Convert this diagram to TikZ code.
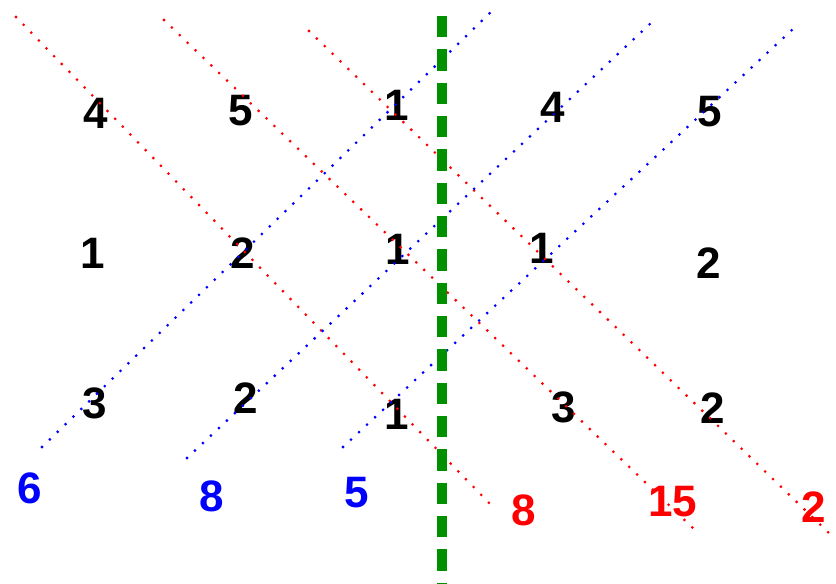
\documentclass[tikz,border=0pt]{standalone}
\usepackage{fontspec}
\setmainfont{Liberation Sans}
\definecolor{sumred}{HTML}{FF0000}
\definecolor{sumblue}{HTML}{0000FF}
\definecolor{cutgreen}{HTML}{009000}
\tikzset{
  val/.style={font=\fontsize{33}{33}\selectfont\bfseries, inner sep=0pt},
  redsum/.style={val, text=sumred},
  bluesum/.style={val, text=sumblue},
  reddiag/.style={sumred, line width=2.3pt, line cap=round, dash pattern=on 0pt off 8.2pt},
  bluediag/.style={reddiag, sumblue},
  cutline/.style={cutgreen, line width=7pt, dash pattern=on 16pt off 9pt},
}

\begin{document}
\begin{tikzpicture}[x=0.75pt, y=-0.75pt]
    \useasboundingbox (0,0) rectangle (836,584);

    % grid values
    \node[val] (a1) at (96,113) {4};
    \node[val] (a2) at (241,111) {5};
    \node[val] (a3) at (397,105) {1};
    \node[val] (a4) at (553,107) {4};
    \node[val] (a5) at (710,112) {5};
    \node[val] (b1) at (93,253) {1};
    \node[val] (b2) at (243,253) {2};
    \node[val] (b3) at (398,249) {1};
    \node[val] (b4) at (542,248) {1};
    \node[val] (b5) at (709,263) {2};
    \node[val] (c1) at (95,403) {3};
    \node[val] (c2) at (246,398) {2};
    \node[val] (c3) at (397,414) {1};
    \node[val] (c4) at (564,407) {3};
    \node[val] (c5) at (713,408) {2};

    % sums
    \node[bluesum] (s6) at (30,488) {6};
    \node[bluesum] (s8) at (212,496) {8};
    \node[bluesum] (s5) at (357,493) {5};
    \node[redsum] (t8) at (524,510) {8};
    \node[redsum] (t15) at (673,502) {15};
    \node[redsum] (t2) at (814,507) {2};

    % diagonal ends
    \coordinate (r1a) at (16,17);   \coordinate (r1b) at (493,507);
    \coordinate (r2a) at (164,20);  \coordinate (r2b) at (697,532);
    \coordinate (r3a) at (309,31);  \coordinate (r3b) at (833,537);
    \coordinate (b1a) at (42,447);  \coordinate (b1b) at (491,12);
    \coordinate (b2a) at (187,458); \coordinate (b2b) at (651,23);
    \coordinate (b3a) at (343,447); \coordinate (b3b) at (793,29);
    \coordinate (cuttop) at (442,16);
    \coordinate (cutbot) at (442,584);

    \draw[reddiag] (r1a) -- (r1b);
    \draw[reddiag] (r2a) -- (r2b);
    \draw[reddiag] (r3a) -- (r3b);
    \draw[bluediag] (b1a) -- (b1b);
    \draw[bluediag] (b2a) -- (b2b);
    \draw[bluediag] (b3a) -- (b3b);
    \draw[cutline] (cuttop) -- (cutbot);
  \end{tikzpicture}
\end{document}
